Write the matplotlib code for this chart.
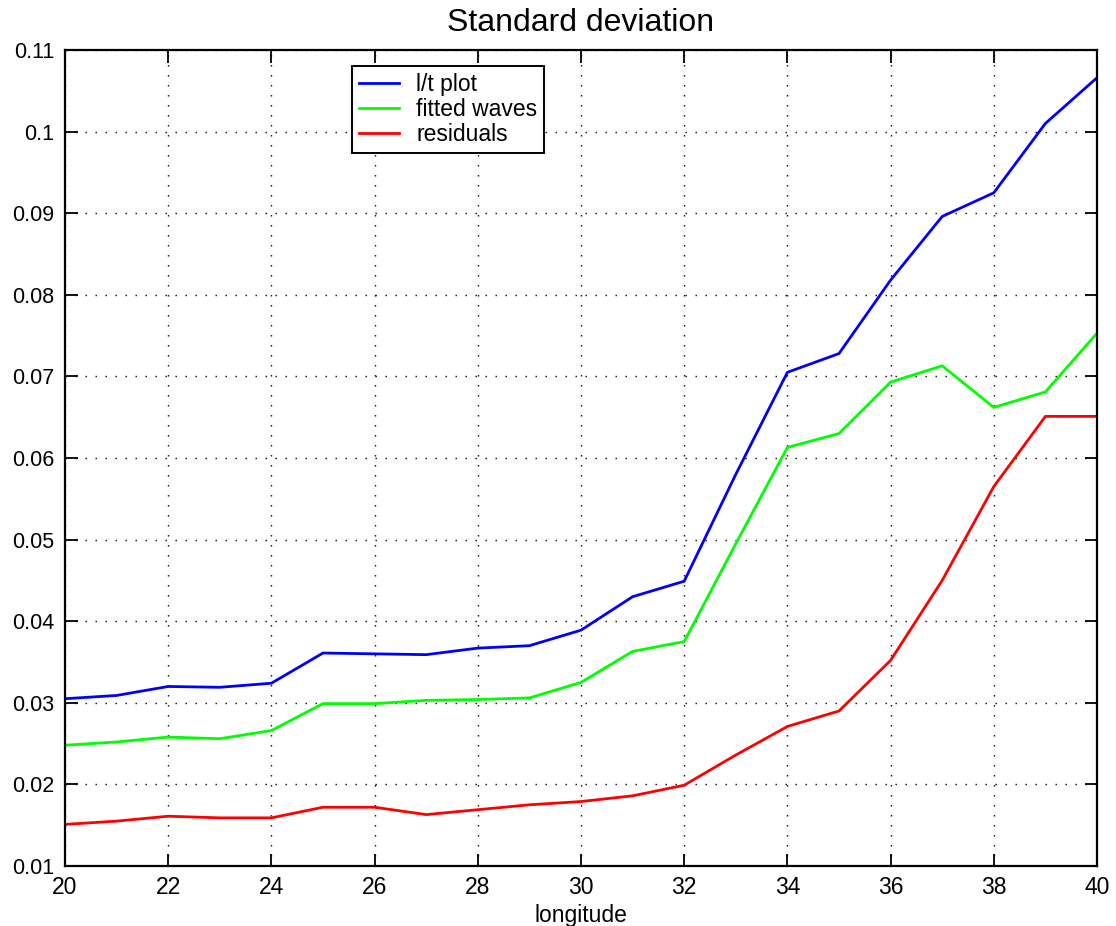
import matplotlib
matplotlib.use("Agg")
import matplotlib.pyplot as plt

plt.rcParams['font.family'] = ['Liberation Sans', 'DejaVu Sans']

longitude = [20, 21, 22, 23, 24, 25, 26, 27, 28, 29, 30, 31, 32, 33, 34, 35, 36, 37, 38, 39, 40]
lt_plot = [0.0305, 0.0309, 0.0320, 0.0319, 0.0324, 0.0361, 0.0360, 0.0359, 0.0367, 0.0370,
           0.0389, 0.0430, 0.0449, 0.0580, 0.0705, 0.0728, 0.0818, 0.0896, 0.0925, 0.1010, 0.1066]
fitted_waves = [0.0248, 0.0252, 0.0258, 0.0256, 0.0266, 0.0299, 0.0299, 0.0303, 0.0304, 0.0306,
                0.0325, 0.0363, 0.0375, 0.0495, 0.0613, 0.0630, 0.0693, 0.0713, 0.0662, 0.0681, 0.0753]
residuals = [0.0151, 0.0155, 0.0161, 0.0159, 0.0159, 0.0172, 0.0172, 0.0163, 0.0169, 0.0175,
             0.0179, 0.0186, 0.0199, 0.0236, 0.0271, 0.0290, 0.0352, 0.0450, 0.0565, 0.0651, 0.0651]
xticks = [20, 22, 24, 26, 28, 30, 32, 34, 36, 38, 40]
yticks = [0.01, 0.02, 0.03, 0.04, 0.05, 0.06, 0.07, 0.08, 0.09, 0.1, 0.11]
ytick_labels = ['0.01', '0.02', '0.03', '0.04', '0.05', '0.06', '0.07', '0.08', '0.09', '0.1', '0.11']

fig = plt.figure(figsize=(11.16, 9.26), dpi=100)
ax = fig.add_axes([65/1116, 60/926, 1032/1116, 816/926])

ax.plot(longitude, lt_plot, color=(0, 0, 1), lw=2.0, label='l/t plot')
ax.plot(longitude, fitted_waves, color=(0, 1, 0), lw=2.0, label='fitted waves')
ax.plot(longitude, residuals, color=(1, 0, 0), lw=2.0, label='residuals')

ax.set_xlim(20, 40)
ax.set_ylim(0.01, 0.11)
ax.set_xticks(xticks)
ax.set_xticklabels([str(t) for t in xticks])
ax.set_yticks(yticks)
ax.set_yticklabels(ytick_labels)
ax.grid(True, color='black', linestyle=(0, (1, 6.2)), linewidth=1.0)
ax.tick_params(direction='in', top=True, right=True, length=9, width=1.3)
ax.tick_params(axis='y', pad=8, labelsize=15.5)
ax.tick_params(axis='x', pad=7, labelsize=16.5)
for s in ax.spines.values():
    s.set_linewidth(1.6)

ax.set_title('Standard deviation', fontsize=23, pad=14)
ax.set_xlabel('longitude', fontsize=16.5, labelpad=4)

leg = ax.legend(loc='upper left', bbox_to_anchor=(0.278, 0.980), fontsize=16.5,
                frameon=True, fancybox=False, edgecolor='black', framealpha=1,
                handlelength=1.75, borderpad=0.3, labelspacing=0.08, handletextpad=0.75,
                borderaxespad=0)
leg.get_frame().set_linewidth(1.4)

fig.savefig('out.png', dpi=100)
